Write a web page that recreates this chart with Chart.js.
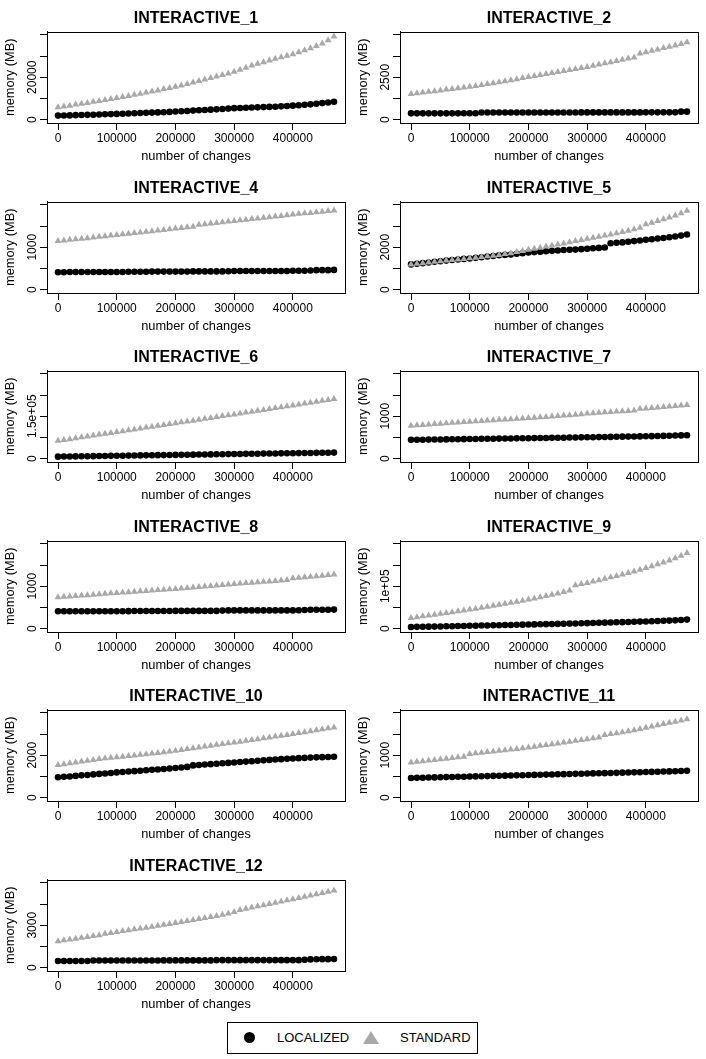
<!DOCTYPE html>
<html>
<head>
<meta charset="utf-8">
<script src="https://cdn.jsdelivr.net/npm/chart.js@4.4.1/dist/chart.umd.min.js"></script>
<style>
  body { margin: 0; background: #fff; }
  #page { position: relative; width: 706px; height: 1059px; overflow: hidden; font-family: "Liberation Sans", Arial, sans-serif; }
  .panel { position: absolute; width: 353px; height: 170px; }
  .legend { position: absolute; left: 227px; top: 1022px; width: 251px; height: 32px; border: 1px solid #000; box-sizing: border-box; }
  .legend span { position: absolute; }
  .legend .dot { width: 11px; height: 11px; border-radius: 50%; background: #000; left: 16px; top: 9px; }
  .legend .tri { width: 0; height: 0; border-left: 8px solid transparent; border-right: 8px solid transparent; border-bottom: 13px solid #a9a9a9; left: 135px; top: 8px; }
  .legend .txt { font-size: 13px; line-height: 15px; top: 7px; color: #000; }
</style>
</head>
<body>
<div id="page">
  <div class="legend">
    <span class="dot"></span><span class="txt" style="left:49px">LOCALIZED</span>
    <span class="tri"></span><span class="txt" style="left:172px">STANDARD</span>
  </div>
</div>
<script>
// number of changes (x) shared by every panel
const changes = [0, 10000, 20000, 30000, 40000, 50000, 60000, 70000, 80000, 90000,
  100000, 110000, 120000, 130000, 140000, 150000, 160000, 170000, 180000, 190000,
  200000, 210000, 220000, 230000, 240000, 250000, 260000, 270000, 280000, 290000,
  300000, 310000, 320000, 330000, 340000, 350000, 360000, 370000, 380000, 390000,
  400000, 410000, 420000, 430000, 440000, 450000, 460000, 470000];
const xTicks = [0, 100000, 200000, 300000, 400000];

// memory (MB) per benchmark
const loc1 = [1900, 1950, 2000, 2100, 2150, 2250, 2300, 2400, 2500, 2600, 2700, 2800, 2900, 3000, 3100, 3200, 3300, 3400, 3500, 3650, 3800, 3950, 4100, 4250, 4400, 4550, 4700, 4850, 5000, 5200, 5400, 5500, 5600, 5700, 5800, 5900, 6000, 6100, 6250, 6400, 6600, 6800, 7000, 7200, 7500, 7800, 8100, 8400];
const std1 = [5800, 6200, 6600, 7100, 7500, 7900, 8400, 8800, 9300, 9700, 10200, 10700, 11200, 11700, 12200, 12800, 13300, 13800, 14400, 14900, 15500, 16100, 16800, 17500, 18200, 18900, 19600, 20300, 21100, 21800, 22600, 23500, 24500, 25500, 26400, 27100, 27900, 28700, 29400, 30100, 30900, 31800, 32700, 33700, 34700, 35900, 37500, 39200];
const yTicks1 = [0, 10000, 20000, 30000, 40000];
const yLabels1 = ['0', '', '20000', '', ''];

const loc2 = [370, 370, 370, 370, 370, 370, 370, 370, 370, 375, 375, 375, 420, 420, 420, 420, 420, 420, 420, 420, 420, 420, 420, 420, 420, 420, 420, 420, 420, 425, 425, 425, 425, 425, 425, 425, 425, 425, 425, 425, 430, 430, 430, 430, 430, 430, 470, 470];
const std2 = [1510, 1550, 1600, 1640, 1680, 1720, 1770, 1810, 1850, 1900, 1940, 1990, 2040, 2100, 2150, 2200, 2260, 2320, 2380, 2450, 2510, 2570, 2630, 2690, 2750, 2810, 2870, 2930, 2990, 3050, 3110, 3180, 3250, 3320, 3390, 3460, 3530, 3600, 3670, 3900, 3980, 4060, 4140, 4220, 4300, 4380, 4460, 4560];
const yTicks2 = [0, 1250, 2500, 3750, 5000];
const yLabels2 = ['0', '', '2500', '', ''];

const loc4 = [410, 410, 415, 415, 415, 415, 415, 415, 415, 415, 415, 415, 420, 420, 420, 420, 425, 425, 425, 425, 425, 425, 425, 430, 430, 430, 430, 430, 430, 435, 440, 440, 440, 440, 440, 440, 440, 440, 440, 440, 445, 445, 445, 450, 460, 460, 460, 465];
const std4 = [1150, 1160, 1175, 1190, 1200, 1215, 1230, 1245, 1260, 1275, 1290, 1305, 1320, 1335, 1350, 1365, 1380, 1395, 1410, 1425, 1440, 1455, 1470, 1485, 1530, 1545, 1560, 1575, 1590, 1605, 1620, 1635, 1650, 1665, 1680, 1695, 1710, 1725, 1740, 1755, 1775, 1790, 1800, 1810, 1825, 1840, 1855, 1870];
const yTicks4 = [0, 500, 1000, 1500, 2000];
const yLabels4 = ['0', '', '1000', '', ''];

const loc5 = [1190, 1220, 1250, 1280, 1310, 1340, 1370, 1400, 1420, 1450, 1470, 1500, 1530, 1560, 1590, 1620, 1640, 1660, 1690, 1720, 1750, 1770, 1790, 1810, 1830, 1850, 1870, 1880, 1890, 1910, 1930, 1950, 1970, 1990, 2190, 2210, 2230, 2260, 2290, 2320, 2350, 2380, 2410, 2440, 2470, 2510, 2550, 2600];
const std5 = [1190, 1220, 1250, 1280, 1310, 1340, 1370, 1400, 1420, 1450, 1480, 1510, 1540, 1570, 1600, 1630, 1680, 1720, 1770, 1820, 1880, 1930, 1980, 2030, 2080, 2130, 2180, 2240, 2290, 2340, 2400, 2450, 2500, 2550, 2600, 2660, 2720, 2780, 2850, 2920, 3090, 3160, 3240, 3320, 3410, 3500, 3600, 3720];
const yTicks5 = [0, 1000, 2000, 3000, 4000];
const yLabels5 = ['0', '', '2000', '', ''];

const loc6 = [7000, 7300, 7600, 7900, 8200, 8500, 8800, 9100, 9400, 9700, 10000, 10300, 10600, 10900, 11300, 11600, 11900, 12200, 12500, 12800, 13100, 13400, 13700, 14000, 14300, 14600, 14900, 15300, 15600, 15900, 16200, 16500, 16800, 17100, 17400, 17700, 18000, 18300, 18600, 18900, 19200, 19500, 19800, 20100, 20400, 20700, 21000, 21300];
const std6 = [63000, 66000, 69000, 72500, 75500, 78500, 81500, 85000, 88000, 91000, 94000, 97000, 100000, 103500, 106500, 110000, 113000, 116000, 119000, 122500, 125500, 128500, 131500, 134500, 138000, 141000, 144000, 147000, 150500, 153500, 156500, 160000, 163000, 166000, 169500, 172500, 175500, 179000, 182000, 185000, 188500, 191500, 195000, 198000, 201000, 204500, 207500, 211000];
const yTicks6 = [0, 75000, 150000, 225000, 300000];
const yLabels6 = ['0', '', '1.5e+05', '', ''];

const loc7 = [443, 445, 447, 449, 450, 452, 454, 456, 458, 460, 462, 464, 466, 468, 470, 472, 474, 476, 478, 480, 482, 484, 486, 488, 490, 492, 494, 497, 500, 502, 504, 506, 508, 510, 512, 515, 518, 520, 522, 524, 527, 530, 533, 536, 540, 544, 548, 553];
const std7 = [775, 785, 795, 805, 815, 825, 835, 845, 855, 865, 872, 882, 890, 898, 906, 915, 923, 932, 940, 948, 956, 965, 975, 985, 995, 1005, 1015, 1025, 1037, 1050, 1062, 1072, 1082, 1092, 1102, 1110, 1118, 1126, 1134, 1175, 1185, 1195, 1205, 1217, 1229, 1241, 1253, 1265];
const yTicks7 = [0, 500, 1000, 1500, 2000];
const yLabels7 = ['0', '', '1000', '', ''];

const loc8 = [410, 410, 410, 410, 410, 410, 410, 410, 410, 410, 410, 410, 412, 415, 415, 415, 415, 415, 415, 415, 418, 418, 418, 418, 418, 418, 418, 418, 425, 430, 430, 430, 430, 430, 430, 430, 430, 430, 430, 430, 430, 432, 440, 445, 445, 445, 447, 449];
const std8 = [740, 750, 760, 770, 780, 790, 800, 812, 822, 832, 842, 851, 860, 870, 880, 890, 900, 910, 919, 928, 937, 948, 960, 972, 984, 996, 1008, 1020, 1032, 1044, 1055, 1065, 1075, 1085, 1095, 1105, 1115, 1125, 1135, 1145, 1190, 1202, 1214, 1226, 1238, 1250, 1263, 1276];
const yTicks8 = [0, 500, 1000, 1500, 2000];
const yLabels8 = ['0', '', '1000', '', ''];

const loc9 = [3900, 4100, 4300, 4600, 4800, 5100, 5400, 5700, 6000, 6300, 6600, 6900, 7200, 7500, 7800, 8100, 8400, 8700, 9000, 9300, 9600, 9900, 10200, 10500, 10800, 11100, 11400, 11800, 12100, 12500, 12900, 13300, 13700, 14100, 14500, 14900, 15300, 15700, 16100, 16500, 16900, 17400, 17900, 18400, 18900, 19500, 20300, 21300];
const std9 = [25200, 27000, 28900, 30800, 32800, 34800, 36800, 38800, 40800, 42800, 44900, 47100, 49300, 51500, 53800, 56100, 58500, 60900, 63300, 65800, 68500, 71300, 74100, 77000, 80000, 83000, 86200, 89800, 102400, 105200, 107900, 111000, 114300, 117600, 121000, 124400, 127800, 131300, 135000, 139000, 143300, 147500, 151800, 156300, 161000, 166000, 172000, 178700];
const yTicks9 = [0, 50000, 100000, 150000, 200000];
const yLabels9 = ['0', '', '1e+05', '', ''];

const loc10 = [960, 980, 1000, 1025, 1050, 1070, 1095, 1120, 1140, 1165, 1190, 1210, 1230, 1250, 1270, 1290, 1310, 1330, 1350, 1375, 1400, 1425, 1450, 1520, 1540, 1560, 1580, 1600, 1620, 1640, 1660, 1680, 1700, 1720, 1740, 1760, 1780, 1800, 1815, 1830, 1850, 1862, 1875, 1888, 1900, 1910, 1920, 1930];
const std10 = [1540, 1580, 1620, 1660, 1700, 1740, 1780, 1820, 1860, 1880, 1900, 1930, 1960, 1990, 2020, 2050, 2080, 2110, 2140, 2175, 2210, 2250, 2290, 2330, 2370, 2410, 2450, 2490, 2530, 2565, 2600, 2640, 2680, 2720, 2760, 2800, 2840, 2880, 2920, 2960, 3000, 3045, 3090, 3135, 3180, 3225, 3270, 3310];
const yTicks10 = [0, 1000, 2000, 3000, 4000];
const yLabels10 = ['0', '', '2000', '', ''];

const loc11 = [463, 466, 470, 473, 477, 480, 484, 487, 491, 494, 498, 501, 505, 508, 512, 515, 519, 522, 526, 529, 533, 536, 540, 543, 547, 550, 554, 557, 561, 564, 568, 571, 575, 578, 582, 585, 589, 592, 596, 600, 603, 607, 611, 615, 619, 623, 628, 635];
const std11 = [830, 845, 860, 875, 890, 905, 920, 935, 950, 965, 1030, 1045, 1060, 1075, 1090, 1105, 1120, 1135, 1150, 1165, 1184, 1203, 1222, 1241, 1260, 1280, 1300, 1320, 1340, 1360, 1380, 1400, 1420, 1480, 1500, 1522, 1545, 1568, 1590, 1620, 1650, 1680, 1710, 1740, 1765, 1790, 1820, 1850];
const yTicks11 = [0, 500, 1000, 1500, 2000];
const yLabels11 = ['0', '', '1000', '', ''];

const loc12 = [470, 470, 470, 470, 470, 470, 500, 500, 500, 500, 500, 500, 500, 500, 500, 500, 500, 500, 510, 510, 510, 510, 510, 510, 510, 510, 510, 530, 530, 530, 530, 530, 530, 530, 530, 530, 530, 530, 530, 530, 530, 530, 560, 580, 590, 600, 600, 610];
const std12 = [1875, 1930, 1990, 2050, 2110, 2170, 2230, 2290, 2400, 2460, 2530, 2590, 2650, 2710, 2770, 2830, 2890, 2960, 3030, 3095, 3160, 3230, 3300, 3370, 3440, 3510, 3580, 3660, 3740, 3840, 3940, 4080, 4170, 4250, 4340, 4420, 4510, 4590, 4680, 4770, 4850, 4935, 5020, 5100, 5190, 5280, 5370, 5460];
const yTicks12 = [0, 1500, 3000, 4500, 6000];
const yLabels12 = ['0', '', '3000', '', ''];

const panels = [
  { name: 'INTERACTIVE_1', loc: loc1, std: std1, ticks: yTicks1, labels: yLabels1 },
  { name: 'INTERACTIVE_2', loc: loc2, std: std2, ticks: yTicks2, labels: yLabels2 },
  { name: 'INTERACTIVE_4', loc: loc4, std: std4, ticks: yTicks4, labels: yLabels4 },
  { name: 'INTERACTIVE_5', loc: loc5, std: std5, ticks: yTicks5, labels: yLabels5 },
  { name: 'INTERACTIVE_6', loc: loc6, std: std6, ticks: yTicks6, labels: yLabels6 },
  { name: 'INTERACTIVE_7', loc: loc7, std: std7, ticks: yTicks7, labels: yLabels7 },
  { name: 'INTERACTIVE_8', loc: loc8, std: std8, ticks: yTicks8, labels: yLabels8 },
  { name: 'INTERACTIVE_9', loc: loc9, std: std9, ticks: yTicks9, labels: yLabels9 },
  { name: 'INTERACTIVE_10', loc: loc10, std: std10, ticks: yTicks10, labels: yLabels10 },
  { name: 'INTERACTIVE_11', loc: loc11, std: std11, ticks: yTicks11, labels: yLabels11 },
  { name: 'INTERACTIVE_12', loc: loc12, std: std12, ticks: yTicks12, labels: yLabels12 },
];

const FONT = '"Liberation Sans", Arial, Helvetica, sans-serif';
Chart.defaults.font.family = FONT;
Chart.defaults.color = '#000';

// R-style closed box plus rotated y tick labels
const rBox = {
  id: 'rBox',
  afterDraw(chart, args, opts) {
    const { ctx, chartArea: a } = chart;
    const y = chart.scales.y;
    ctx.save();
    ctx.strokeStyle = '#000';
    ctx.lineWidth = 1;
    ctx.strokeRect(Math.round(a.left) + 0.5, Math.round(a.top) + 0.5,
      Math.round(a.right) - Math.round(a.left), Math.round(a.bottom) - Math.round(a.top));
    ctx.fillStyle = '#000';
    ctx.font = '12px ' + FONT;
    ctx.textAlign = 'center';
    ctx.textBaseline = 'middle';
    opts.ticks.forEach((v, i) => {
      const text = opts.labels[i];
      if (!text) return;
      ctx.save();
      ctx.translate(a.left - 14.5, y.getPixelForValue(v));
      ctx.rotate(-Math.PI / 2);
      ctx.fillText(text, 0, 0);
      ctx.restore();
    });
    ctx.restore();
  },
};

const page = document.getElementById('page');
const rowTops = [0, 170, 339, 509, 678, 848];

panels.forEach((p, idx) => {
  const wrap = document.createElement('div');
  wrap.className = 'panel';
  wrap.style.left = (idx % 2) * 353 + 'px';
  wrap.style.top = rowTops[Math.floor(idx / 2)] + 'px';
  const canvas = document.createElement('canvas');
  canvas.width = 353;
  canvas.height = 170;
  wrap.appendChild(canvas);
  page.appendChild(wrap);

  const top = p.ticks[p.ticks.length - 1];

  new Chart(canvas, {
    type: 'scatter',
    data: {
      datasets: [
        {
          label: 'LOCALIZED',
          data: changes.map((x, i) => ({ x, y: p.loc[i] })),
          pointStyle: 'circle',
          pointRadius: 3.3,
          backgroundColor: '#000',
          borderWidth: 0,
          order: 2,
        },
        {
          label: 'STANDARD',
          data: changes.map((x, i) => ({ x, y: p.std[i] })),
          pointStyle: 'triangle',
          pointRadius: 4,
          backgroundColor: '#a9a9a9',
          borderWidth: 0,
          order: 1,
        },
      ],
    },
    options: {
      responsive: false,
      animation: false,
      events: [],
      layout: { padding: { left: 0, right: 8, top: 0, bottom: 0 } },
      plugins: {
        legend: { display: false },
        tooltip: { enabled: false },
        title: {
          display: true,
          text: p.name,
          fullSize: false,
          color: '#000',
          font: { size: 16, weight: 'bold' },
          padding: { top: 8.7, bottom: 3.6 },
        },
        rBox: { ticks: p.ticks, labels: p.labels },
      },
      scales: {
        x: {
          type: 'linear',
          min: -18800,
          max: 488800,
          afterBuildTicks: (s) => { s.ticks = xTicks.map((v) => ({ value: v })); },
          afterFit: (s) => { s.height = 47; },
          border: { display: true, color: '#000', width: 1 },
          grid: { drawOnChartArea: false, drawTicks: true, tickLength: 7, color: '#000' },
          ticks: { color: '#000', font: { size: 12 }, padding: 1, autoSkip: false, maxRotation: 0, callback: (v) => String(v) },
          title: { display: true, text: 'number of changes', color: '#000', font: { size: 12.8 }, padding: { top: 0, bottom: 6 } },
        },
        y: {
          type: 'linear',
          min: -0.04 * top,
          max: 1.04 * top,
          afterBuildTicks: (s) => { s.ticks = p.ticks.map((v) => ({ value: v })); },
          afterFit: (s) => { s.width = 47; },
          border: { display: true, color: '#000', width: 1 },
          grid: { drawOnChartArea: false, drawTicks: true, tickLength: 7, color: '#000' },
          ticks: { display: false },
          title: { display: true, text: 'memory (MB)', color: '#000', font: { size: 12.8 }, padding: { top: 2.5, bottom: 0 } },
        },
      },
    },
    plugins: [rBox],
  });
});
</script>
</body>
</html>
